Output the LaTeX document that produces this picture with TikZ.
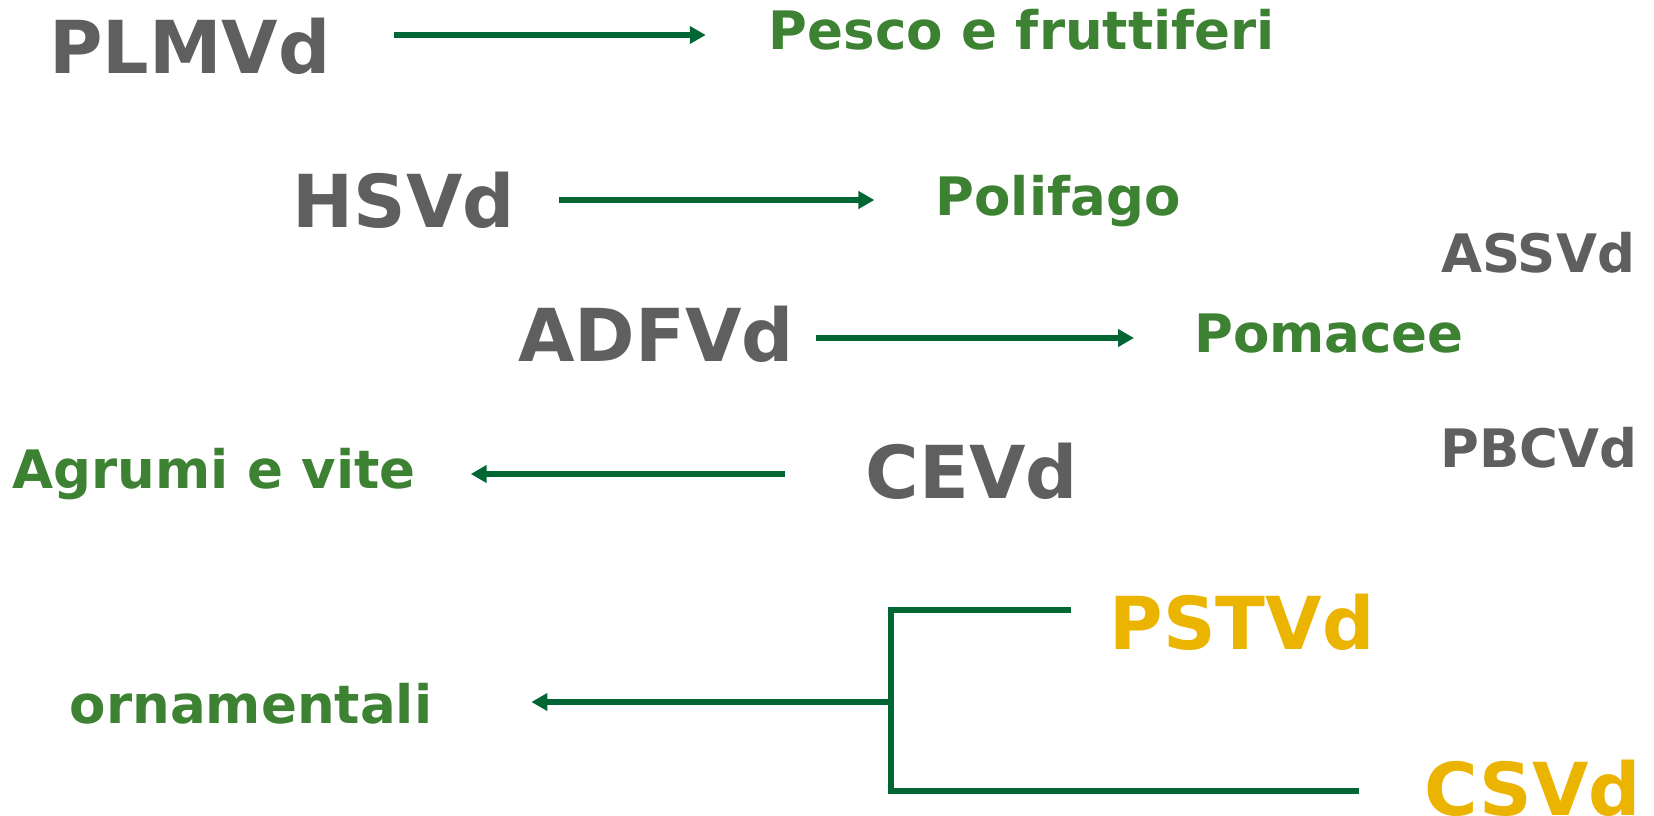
\documentclass[tikz,border=0pt]{standalone}
\usepackage{fontspec}
\setmainfont{DejaVu Sans}
\usetikzlibrary{arrows.meta,calc}
\definecolor{ViroGray}{RGB}{95,95,95}
\definecolor{HostGreen}{RGB}{61,130,51}
\definecolor{LinkGreen}{RGB}{0,102,51}
\definecolor{ViroGold}{RGB}{234,180,0}
\tikzset{
  viroid/.style={text=ViroGray,font=\bfseries\fontsize{73}{73}\selectfont,inner sep=0pt,anchor=base},
  minor/.style={viroid,font=\bfseries\fontsize{53}{53}\selectfont},
  host/.style={text=HostGreen,font=\bfseries\fontsize{53}{53}\selectfont,inner sep=0pt,anchor=base},
  tree/.style={draw=LinkGreen,line width=5.5pt},
  link/.style={tree,-{Triangle[length=16pt,width=17pt]}}
}

\begin{document}
\begin{tikzpicture}[x=1pt,y=-1pt]
\useasboundingbox (0,0) rectangle (1654,816);
% viroidi
\node[viroid] (PLMVd) at (190,74){PLMVd};
\node[viroid] (HSVd) at (404,227){HSVd};
\node[viroid] (ADFVd) at (656,361){ADFVd};
\node[viroid] (CEVd) at (972,498){CEVd};
\node[viroid,text=ViroGold] (PSTVd) at (1242,649){PSTVd};
\node[viroid,text=ViroGold] (CSVd) at (1533,815){CSVd};
\node[minor] (ASSVd) at (1538,272){ASSVd};
\node[minor] (PBCVd) at (1539,467){PBCVd};
% ospiti
\node[host] (pesco) at (1022,50){Pesco e fruttiferi};
\node[host] (polifago) at (1058,215){Polifago};
\node[host] (pomacee) at (1329,352){Pomacee};
\node[host] (agrumi) at (214,488){Agrumi e vite};
\node[host] (ornam) at (251,723){ornamentali};
% frecce
\draw[link,shorten <=63pt,shorten >=63pt] (PLMVd.east |- 0,35) -- (pesco.west |- 0,35);
\draw[link,shorten <=44pt,shorten >=61pt] (HSVd.east |- 0,200) -- (polifago.west |- 0,200);
\draw[link,shorten <=22pt,shorten >=60pt] (ADFVd.east |- 0,338) -- (pomacee.west |- 0,338);
\draw[link,shorten <=81pt,shorten >=55pt] (CEVd.west |- 0,474) -- (agrumi.east |- 0,474);
\coordinate (top) at (891,610);
\coordinate (bot) at (891,791);
\coordinate (fork) at (891,702);
\draw[tree,shorten <=39pt,shorten >=66pt] (PSTVd.west |- top) -- (top) -- (bot) -- (CSVd.west |- bot);
\draw[link,shorten >=99pt] (fork) -- (ornam.east |- fork);
\end{tikzpicture}
\end{document}
